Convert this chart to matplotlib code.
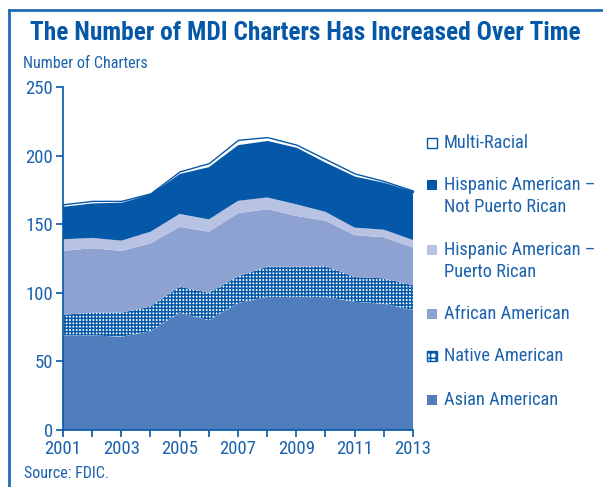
import matplotlib
matplotlib.use("Agg")
import matplotlib.pyplot as plt
import numpy as np
from matplotlib.patches import Rectangle
from matplotlib.lines import Line2D

years = list(range(2001, 2014))
asian = [69, 69, 68, 72, 85.5, 80, 92.5, 97, 97, 97, 93.5, 92, 87.5]
native = [15, 16.5, 17.5, 18, 19, 20, 19.5, 22, 22, 22.5, 18, 18.5, 18]
african = [46.5, 47, 45, 46, 43.5, 44.5, 46, 42, 37, 33, 30.5, 30, 27.5]
puerto_rican = [8.5, 7.5, 7.5, 8.5, 9.5, 9, 9, 8.5, 8.5, 6.5, 5.5, 5.5, 5.5]
not_puerto_rican = [23.5, 25, 27.5, 27, 29, 38, 40.5, 41, 41, 35.5, 37, 34, 35]
multi_racial = [2, 2, 1.5, 1, 2, 3, 4, 3, 2.5, 3, 2.5, 1.5, 1]

series_labels = ["Asian American", "Native American", "African American",
                 "Hispanic American –\nPuerto Rican",
                 "Hispanic American –\nNot Puerto Rican", "Multi-Racial"]
y_ticks = [0, 50, 100, 150, 200, 250]
x_ticks = [2001, 2003, 2005, 2007, 2009, 2011, 2013]

TXT = "#1c62ad"
DARK = "#0558a8"
C_ASIAN = "#507dbc"
C_AFR = "#8da2d1"
C_PR = "#b8c3e3"
FONT = ["Roboto Condensed", "Archivo Narrow", "DejaVu Sans"]
plt.rcParams['font.family'] = FONT
plt.rcParams['hatch.linewidth'] = 1.1

fig = plt.figure(figsize=(6.03, 4.87), dpi=100)
ax = fig.add_axes([63/603, 57/487, 350/603, 343/487])

polys = ax.stackplot(years, asian, native, african, puerto_rican,
                     not_puerto_rican, multi_racial,
                     colors=[C_ASIAN, "white", C_AFR, C_PR, DARK, "white"])
for p in polys:
    p.set_linewidth(0)
polys[1].set_hatch("+++++")
polys[1].set_edgecolor(DARK)
polys[5].set_edgecolor(DARK)
polys[5].set_linewidth(1.0)

ax.set_xlim(2001, 2013)
ax.set_ylim(0, 250)
ax.set_yticks(y_ticks)
ax.set_xticks(x_ticks)
ax.set_xticks(years, minor=True)
for s in ["top", "right"]:
    ax.spines[s].set_visible(False)
for s in ["left", "bottom"]:
    ax.spines[s].set_color(DARK)
    ax.spines[s].set_linewidth(1.2)
ax.tick_params(axis="both", which="both", colors=DARK, direction="out",
               length=5, width=1.2, labelsize=13.5, labelcolor=TXT)
ax.tick_params(axis="x", which="minor", length=5)
ax.tick_params(axis="x", pad=2)
ax.tick_params(axis="y", pad=2)
ax.set_facecolor("white")

# Title and labels
fig.text(305/603, 1 - 33/487, "The Number of MDI Charters Has Increased Over Time",
         ha="center", va="center", fontsize=18.3, fontweight="bold", color=DARK)
fig.text(23/603, 1 - 63/487, "Number of Charters", ha="left", va="center",
         fontsize=11.6, color=TXT)
fig.text(24/603, 1 - 473/487, "Source: FDIC.", ha="left", va="center",
         fontsize=11.5, color=TXT)

# Frame
fig.add_artist(Line2D([9/603, 9/603], [0, 1 - 10/487], transform=fig.transFigure,
                      color="#1f6db7", lw=2))
fig.add_artist(Line2D([9/603, 1], [1 - 10/487, 1 - 10/487], transform=fig.transFigure,
                      color="#1f6db7", lw=2))

# Legend
legend_items = [
    ("Multi-Racial", "white", None),
    ("Hispanic American –\nNot Puerto Rican", DARK, None),
    ("Hispanic American –\nPuerto Rican", C_PR, None),
    ("African American", C_AFR, None),
    ("Native American", "white", "+++"),
    ("Asian American", C_ASIAN, None),
]
first_line_y = [143, 185, 250, 314, 356, 400]
for (lab, col, hatch), fy in zip(legend_items, first_line_y):
    sq = Rectangle((427/603, 1 - (fy + 5)/487), 10/603, 10/487,
                   transform=fig.transFigure, facecolor=col,
                   edgecolor=DARK, lw=1.0 if col == "white" else 0,
                   hatch=hatch)
    fig.add_artist(sq)
    fig.text(444/603, 1 - fy/487, lab.split("\n")[0], ha="left", va="center",
             fontsize=13.2, color=TXT)
    if "\n" in lab:
        fig.text(444/603, 1 - (fy + 22)/487, lab.split("\n")[1], ha="left",
                 va="center", fontsize=13.2, color=TXT)

fig.savefig("out.png", dpi=100)
